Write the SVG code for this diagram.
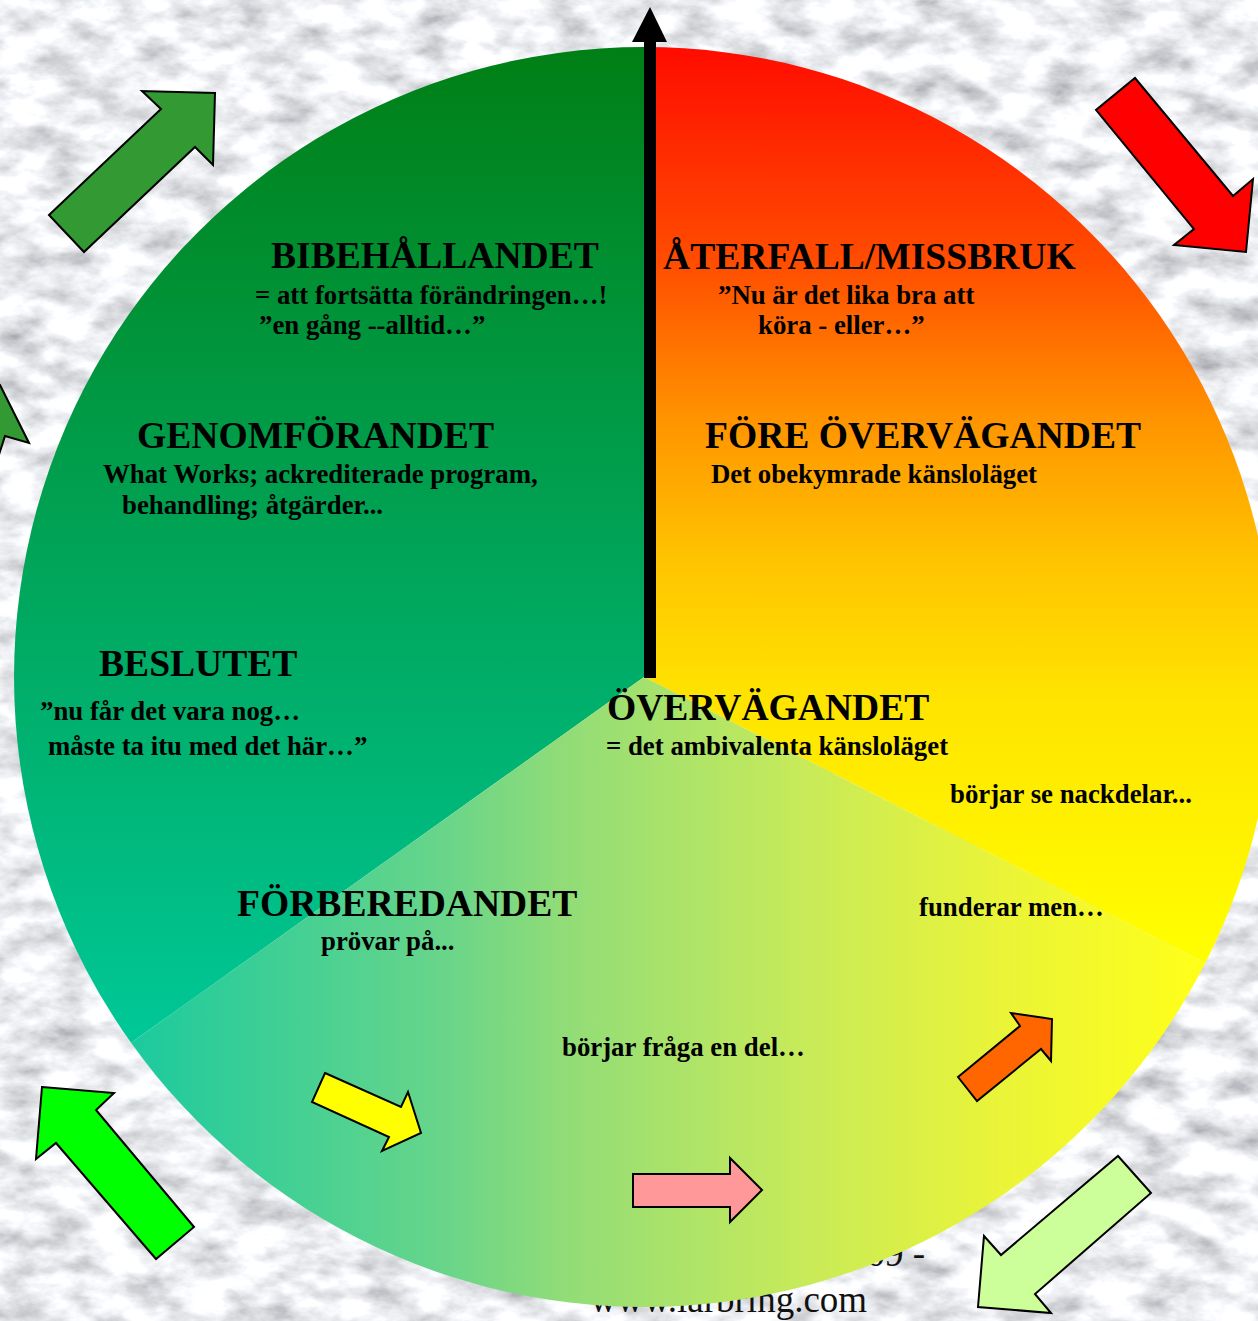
<svg xmlns="http://www.w3.org/2000/svg" width="1258" height="1321" viewBox="0 0 1258 1321">
<style>
.t{font-family:"Liberation Serif","Times New Roman",serif;font-weight:bold;fill:#000}
.h{font-size:37.6px}
.s{font-size:26.8px}
.bg{font-family:"Liberation Serif","Times New Roman",serif;font-size:37px;fill:#111}
.ba{stroke:#000;stroke-width:2;stroke-linejoin:miter}
</style>
<defs>
<filter id="marble" filterUnits="userSpaceOnUse" x="0" y="0" width="1258" height="1321">
<feTurbulence type="fractalNoise" baseFrequency="0.022 0.04" numOctaves="5" seed="7"/>
<feColorMatrix type="matrix" values="1.1 0 0 0 0.3  1.1 0 0 0 0.31  1.1 0 0 0 0.34  0 0 0 0 1"/>
</filter>
<linearGradient id="gGreen" gradientUnits="userSpaceOnUse" x1="0" y1="48" x2="0" y2="1043">
<stop offset="0" stop-color="#007F15"/>
<stop offset="1" stop-color="#00C898"/>
</linearGradient>
<linearGradient id="gRed" gradientUnits="userSpaceOnUse" x1="0" y1="48" x2="0" y2="963">
<stop offset="0" stop-color="#FF0C00"/>
<stop offset="0.232" stop-color="#FF4C00"/>
<stop offset="0.407" stop-color="#FF9400"/>
<stop offset="0.56" stop-color="#FFC400"/>
<stop offset="0.713" stop-color="#FFE400"/>
<stop offset="1" stop-color="#FFFF00"/>
</linearGradient>
<linearGradient id="gBottom" gradientUnits="userSpaceOnUse" x1="131" y1="0" x2="1205" y2="0">
<stop offset="0" stop-color="#1CCA9E"/>
<stop offset="0.29" stop-color="#68D58A"/>
<stop offset="0.4" stop-color="#90DC78"/>
<stop offset="0.62" stop-color="#C6EA5A"/>
<stop offset="0.81" stop-color="#EAF438"/>
<stop offset="1" stop-color="#FFFF18"/>
</linearGradient>
</defs>

<g id="background">
<rect x="0" y="0" width="1258" height="1321" fill="#DCDEE2"/>
<rect x="0" y="0" width="1258" height="1321" filter="url(#marble)"/>
<text class="bg" x="925" y="1266" text-anchor="end">09 -</text>
<text class="bg" x="590" y="1312">www.larbring.com</text>
</g>

<g id="wheel">
<g id="sector-green">
<path d="M644,677 L644,47 A630,630 0 0 0 131.1,1042.8 Z" fill="url(#gGreen)"/>
</g>
<g id="sector-red">
<path d="M644,677 L644,47 A630,630 0 0 1 1205.3,963 Z" fill="url(#gRed)"/>
</g>
<g id="sector-bottom">
<path d="M644,677 L1205.3,963 A630,630 0 0 1 131.1,1042.8 Z" fill="url(#gBottom)"/>
</g>
</g>

<g id="connectors">
<g id="axis-arrow">
<rect x="644" y="40" width="12" height="638" fill="#000"/>
<polygon points="632,42 667,42 650,7" fill="#000"/>
</g>
<g id="arrow-dkgreen-top"><polygon class="ba" fill="#339933" points="49,215 161,109 142,91 215,93 213,165 195,147 84,252"/></g>
<g id="arrow-red"><polygon class="ba" fill="#FF0000" points="1135,78 1233,196 1253,179 1246,252 1174,245 1194,229 1096,110"/></g>
<g id="arrow-dkgreen-left"><polygon class="ba" fill="#339933" points="-40,355 0,385 29,443 5,436 -6,470 -40,470"/></g>
<g id="arrow-brightgreen"><polygon class="ba" fill="#00FF00" points="42,1087 114,1093 96,1110 194,1227 156,1259 56,1143 36,1159"/></g>
<g id="arrow-yellow"><polygon class="ba" fill="#FFFF00" points="325,1073 401,1107 408,1092 421,1133 382,1151 389,1137 312,1102"/></g>
<g id="arrow-pink"><polygon class="ba" fill="#FF9999" points="633,1174 730,1174 730,1158 762,1190 730,1222 730,1207 633,1207"/></g>
<g id="arrow-orange"><polygon class="ba" fill="#FF6600" points="958,1077 1020,1026 1011,1013 1052,1019 1051,1061 1041,1049 977,1101"/></g>
<g id="arrow-lightgreen"><polygon class="ba" fill="#CCFF99" points="1118,1156 1151,1193 1035,1294 1051,1313 978,1307 984,1236 1001,1255"/></g>
</g>

<g id="node-bibehallandet">
<text class="t h" x="271" y="268">BIBEHÅLLANDET</text>
<text class="t s" x="255" y="304">= att fortsätta förändringen…!</text>
<text class="t s" x="259" y="334">”en gång --alltid…”</text>
</g>
<g id="node-aterfall">
<text class="t h" x="663" y="269">ÅTERFALL/MISSBRUK</text>
<text class="t s" x="718" y="304">”Nu är det lika bra att</text>
<text class="t s" x="758" y="334">köra - eller…”</text>
</g>
<g id="node-genomforandet">
<text class="t h" x="137" y="448">GENOMFÖRANDET</text>
<text class="t s" x="103" y="483">What Works; ackrediterade program,</text>
<text class="t s" x="122" y="514">behandling; åtgärder...</text>
</g>
<g id="node-fore">
<text class="t h" x="705" y="448">FÖRE ÖVERVÄGANDET</text>
<text class="t s" x="711" y="483">Det obekymrade känsloläget</text>
</g>
<g id="node-beslutet">
<text class="t h" x="99" y="676">BESLUTET</text>
<text class="t s" x="40" y="720">”nu får det vara nog…</text>
<text class="t s" x="48" y="755">måste ta itu med det här…”</text>
</g>
<g id="node-overvagandet">
<text class="t h" x="607" y="720">ÖVERVÄGANDET</text>
<text class="t s" x="606" y="755">= det ambivalenta känsloläget</text>
<text class="t s" x="950" y="803">börjar se nackdelar...</text>
<text class="t s" x="919" y="916">funderar men…</text>
<text class="t s" x="562" y="1056">börjar fråga en del…</text>
</g>
<g id="node-forberedandet">
<text class="t h" x="237" y="916">FÖRBEREDANDET</text>
<text class="t s" x="321" y="950">prövar på...</text>
</g>
</svg>
